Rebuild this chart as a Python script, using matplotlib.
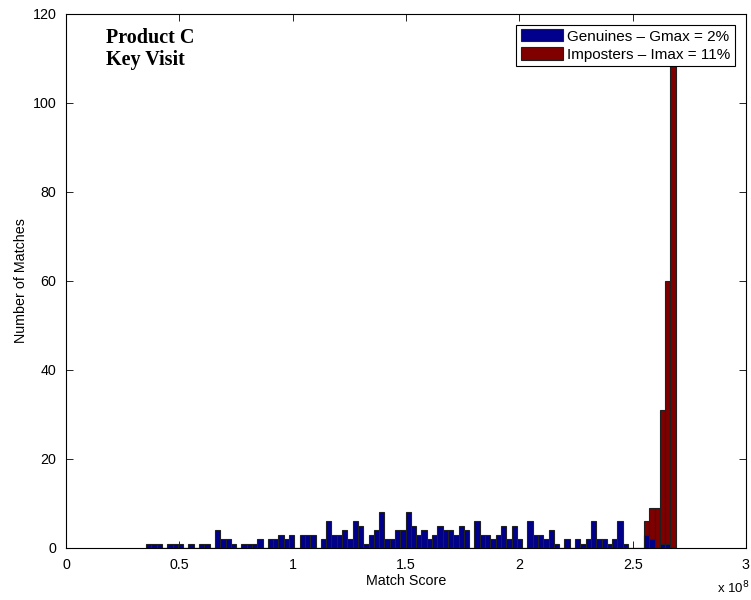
import numpy as np
import matplotlib.pyplot as plt

# histogram over the combined score range, 100 equal bins (scores in units of 1e8)
score_min = 0.3533
score_max = 2.690
n_bins = 100

genuine_counts = [
    1, 1, 1, 0, 1, 1, 1, 0, 1, 0,
    1, 1, 0, 4, 2, 2, 1, 0, 1, 1,
    1, 2, 0, 2, 2, 3, 2, 3, 0, 3,
    3, 3, 0, 2, 6, 3, 3, 4, 2, 6,
    5, 1, 3, 4, 8, 2, 2, 4, 4, 8,
    5, 3, 4, 2, 3, 5, 4, 4, 3, 5,
    4, 0, 6, 3, 3, 2, 3, 5, 2, 5,
    2, 0, 6, 3, 3, 2, 4, 1, 0, 2,
    0, 2, 1, 2, 6, 2, 2, 1, 2, 6,
    1, 0, 0, 0, 3, 2, 0, 1, 1, 0,
]
imposter_counts = [0] * 94 + [6, 9, 9, 31, 60, 115]

genuine_label = 'Genuines \u2013 Gmax = 2%'
imposter_label = 'Imposters \u2013 Imax = 11%'

edges = np.linspace(score_min, score_max, n_bins + 1)
width = edges[1] - edges[0]
left = edges[:-1]

plt.rcParams['font.family'] = ['Liberation Sans', 'DejaVu Sans']

fig = plt.figure(figsize=(7.51, 6.0), dpi=100)
ax = fig.add_axes([0.0879, 0.0867, 0.9054, 0.89])

h_imp = ax.bar(left, imposter_counts, width=width, align='edge',
               color='#800000', edgecolor='#202020', linewidth=0.8, zorder=2)
h_gen = ax.bar(left, genuine_counts, width=width, align='edge',
               color='#00008c', edgecolor='#202020', linewidth=0.8, zorder=3)

ax.set_xlim(0, 3)
ax.set_ylim(0, 120)
ax.set_xticks([0, 0.5, 1, 1.5, 2, 2.5, 3])
ax.set_xticklabels(['0', '0.5', '1', '1.5', '2', '2.5', '3'])
ax.set_yticks(range(0, 121, 20))
ax.tick_params(direction='in', length=5, width=0.6, top=True, right=True,
               labelsize=10.3)
ax.tick_params(axis='x', pad=7)
ax.tick_params(axis='y', pad=7)
for sp in ax.spines.values():
    sp.set_linewidth(0.8)

ax.set_xlabel('Match Score', fontsize=10.3, labelpad=2)
ax.set_ylabel('Number of Matches', fontsize=10.3, labelpad=3)
fig.text(0.998, 0.012, 'x 10$^{8}$', ha='right', va='baseline', fontsize=9.5)

ax.text(0.175, 116.8, 'Product C\nKey Visit', fontsize=14.5, fontweight='bold',
        family='Liberation Serif', va='top', ha='left', linespacing=1.1)

leg = ax.legend([h_gen, h_imp], [genuine_label, imposter_label],
                loc='upper right', fontsize=11, fancybox=False,
                framealpha=1, edgecolor='black', borderpad=0.3,
                handlelength=2.75, handleheight=0.85, handletextpad=0.3,
                labelspacing=0.25, borderaxespad=0.7)
leg.get_frame().set_linewidth(0.8)
leg.set_zorder(5)

plt.savefig('out.png', dpi=100)
